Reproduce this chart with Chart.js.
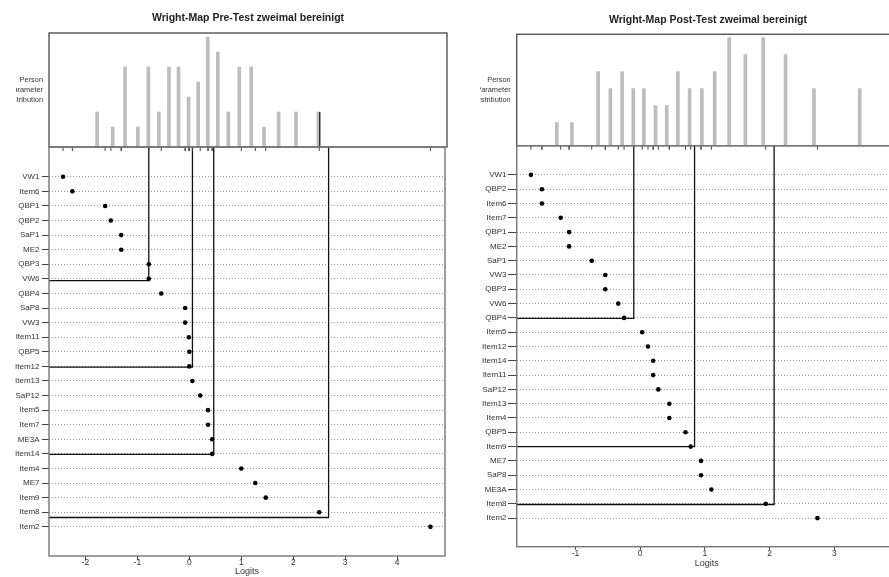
<!DOCTYPE html>
<html>
<head>
<meta charset="utf-8">
<script src="https://cdn.jsdelivr.net/npm/chart.js@4.4.0/dist/chart.umd.min.js"></script>
<style>
body{margin:0;background:#fff;width:889px;height:577px;overflow:hidden;position:relative}
.lado{position:absolute;top:0;height:577px;overflow:hidden;background:#fff}
.lado canvas{position:absolute;left:0;top:0}
</style>
</head>
<body>
<div class="lado" style="left:0;width:450px">
  <canvas id="preDist" width="450" height="577" style="width:450px;height:577px"></canvas>
  <canvas id="preMap" width="450" height="577" style="width:450px;height:577px"></canvas>
</div>
<div class="lado" style="left:450px;width:439px">
  <canvas id="postDist" width="452" height="577" style="width:452px;height:577px"></canvas>
  <canvas id="postMap" width="452" height="577" style="width:452px;height:577px"></canvas>
</div>
<script>
// ---- Pre-Test ----
var preItems = ['VW1','Item6','QBP1','QBP2','SaP1','ME2','QBP3','VW6','QBP4','SaP8','VW3','Item11','QBP5',
  'Item12','Item13','SaP12','Item5','Item7','ME3A','Item14','Item4','ME7','Item9','Item8','Item2'];
var preDifficulty = [-2.43,-2.25,-1.62,-1.51,-1.31,-1.31,-0.78,-0.78,-0.54,-0.08,-0.08,-0.01,0.0,
  0.0,0.06,0.21,0.36,0.36,0.44,0.44,1.0,1.27,1.47,2.50,4.64];
var prePersonLogits = [-2.19,-1.85,-1.58,-1.30,-1.07,-0.84,-0.62,-0.41,-0.19,0.02,0.23,0.45,0.68,0.92,1.18,1.46,1.78,2.16,2.65];
var prePersonCounts = [2,1,5,1,5,2,5,5,3,4,7,6,2,5,5,1,2,2,2];
var preCutLogits = [-0.78,0.06,0.47,2.68];
var preCutRows = [7.12,13.05,19.03,23.36];
var preCutDistHeight = [0,0,0,2];
var preLogitTicks = [-2,-1,0,1,2,3,4];

// ---- Post-Test ----
var postItems = ['VW1','QBP2','Item6','Item7','QBP1','ME2','SaP1','VW3','QBP3','VW6','QBP4','Item5','Item12',
  'Item14','Item11','SaP12','Item13','Item4','QBP5','Item9','ME7','SaP8','ME3A','Item8','Item2'];
var postDifficulty = [-1.69,-1.52,-1.52,-1.23,-1.10,-1.10,-0.75,-0.54,-0.54,-0.34,-0.25,0.03,0.12,
  0.20,0.20,0.28,0.45,0.45,0.70,0.78,0.94,0.94,1.10,1.94,2.74];
var postPersonLogits = [-1.68,-1.41,-0.94,-0.72,-0.51,-0.31,-0.12,0.09,0.29,0.49,0.70,0.92,1.15,1.41,1.70,2.02,2.42,2.93,3.75];
var postPersonCounts = [1,1,4,3,4,3,3,2,2,4,3,3,4,6,5,6,5,3,3];
var postCutLogits = [-0.10,0.84,2.07];
var postCutRows = [10.03,19.0,23.05];
var postCutDistHeight = [0,0,0];
var postLogitTicks = [-1,0,1,2,3];

var personLabel = ['Person','Parameter','Distribution'];
var FUENTE = "'Liberation Sans', Arial, sans-serif";
Chart.defaults.font.family = FUENTE;

// caja alrededor del area del grafico
var marcoPlugin = {
  id: 'marco',
  afterDraw: function(chart, args, opts){
    var a = chart.chartArea, ctx = chart.ctx;
    ctx.save();
    ctx.strokeStyle = opts.color;
    ctx.lineWidth = opts.width;
    ctx.strokeRect(a.left, a.top, a.right - a.left, a.bottom - a.top);
    ctx.restore();
  }
};

// texto "Person Parameter Distribution" recortado a la izquierda
var etiquetaPlugin = {
  id: 'etiqueta',
  afterDraw: function(chart, args, opts){
    var a = chart.chartArea, ctx = chart.ctx;
    var cy = (a.top + a.bottom) / 2;
    ctx.save();
    ctx.beginPath();
    ctx.rect(opts.clipX, a.top, a.left - opts.clipX, a.bottom - a.top);
    ctx.clip();
    ctx.font = '7.4px ' + FUENTE;
    ctx.fillStyle = '#333';
    ctx.textAlign = 'right';
    ctx.textBaseline = 'middle';
    opts.lines.forEach(function(t, i){
      ctx.fillText(t, a.left - 6, cy + (i - 1) * 9.8);
    });
    ctx.restore();
  }
};

function DibujarDistribucion(id, titulo, logits, counts, cuts, cutH, xMin, xMax, yMin, yMax, g){
  var datasets = [{
    type: 'bar',
    data: logits.map(function(v, i){ return {x: v, y: counts[i]}; }),
    backgroundColor: '#bdbdbd',
    barThickness: 3,
    base: yMin,
    order: 2
  }];
  cuts.forEach(function(c, i){
    if (cutH[i] > 0) {
      datasets.push({
        type: 'line',
        data: [{x: c, y: yMin}, {x: c, y: cutH[i]}],
        borderColor: '#222', borderWidth: 1.3, pointRadius: 0, order: 1
      });
    }
  });
  return new Chart(document.getElementById(id), {
    type: 'bar',
    data: {datasets: datasets},
    options: {
      responsive: false, animation: false,
      layout: {padding: {left: g.left, right: g.canvasW - g.right, top: 0, bottom: 577 - g.divide}},
      scales: {
        x: {type: 'linear', min: xMin, max: xMax, display: false},
        y: {type: 'linear', min: yMin, max: yMax, display: false}
      },
      plugins: {
        legend: {display: false},
        tooltip: {enabled: false},
        title: {
          display: true, text: titulo, fullSize: false, color: '#222',
          font: {size: 10.5, weight: 'bold'},
          padding: {top: g.titlePadTop, bottom: g.distTop - g.titlePadTop - 12.6}
        },
        marco: {color: '#555', width: 1.4},
        etiqueta: {clipX: g.textClip, lines: personLabel}
      }
    },
    plugins: [marcoPlugin, etiquetaPlugin]
  });
}

function DibujarMapa(id, items, difficulty, cuts, cutRows, xTicks, xMin, xMax, g){
  var rowMin = -2.04, rowMax = 26.0;
  var datasets = [{
    data: difficulty.map(function(v, i){ return {x: v, y: i}; }),
    pointRadius: 2.3, backgroundColor: '#000', borderWidth: 0
  }, {
    // marcas de los items bajo la distribucion
    data: difficulty.map(function(v){ return {x: v, y: rowMin + 0.14}; }),
    pointStyle: 'line', rotation: 90, pointRadius: 2, borderColor: '#444', borderWidth: 1
  }];
  cuts.forEach(function(c, i){
    datasets.push({
      data: [{x: xMin, y: cutRows[i]}, {x: c, y: cutRows[i]}, {x: c, y: rowMin}],
      showLine: true, pointRadius: 0, borderColor: '#111', borderWidth: 1.3, fill: false
    });
  });
  return new Chart(document.getElementById(id), {
    type: 'scatter',
    data: {datasets: datasets},
    options: {
      responsive: false, animation: false,
      layout: {padding: {left: 0, right: g.canvasW - g.right, top: g.divide, bottom: 0}},
      scales: {
        x: {
          type: 'linear', min: xMin, max: xMax,
          afterBuildTicks: function(s){ s.ticks = xTicks.map(function(v){ return {value: v}; }); },
          afterFit: function(s){ s.height = 577 - g.bottom; },
          grid: {drawOnChartArea: false, tickLength: g.xTickLen, color: '#444'},
          border: {display: false},
          ticks: {padding: g.xPad, font: {size: 8.5}, color: '#333', maxRotation: 0, autoSkip: false},
          title: {display: true, text: 'Logits', font: {size: 9}, color: '#333', padding: {top: 0, bottom: g.logitsPad}}
        },
        y: {
          type: 'linear', reverse: true, min: rowMin, max: rowMax,
          afterBuildTicks: function(s){ s.ticks = items.map(function(n, i){ return {value: i}; }); },
          afterFit: function(s){ s.width = g.left; },
          grid: {color: '#999', tickColor: '#444', tickLength: g.yTickLen},
          border: {display: false, dash: [1, 2]},
          ticks: {
            autoSkip: false, padding: g.yPad, font: {size: 8}, color: '#333',
            callback: function(v){ return items[v]; }
          }
        }
      },
      plugins: {
        legend: {display: false},
        tooltip: {enabled: false},
        marco: {color: '#777', width: 1.4}
      }
    },
    plugins: [marcoPlugin]
  });
}

var preGeom = {left: 49, right: 447, distTop: 33, divide: 147, bottom: 556, canvasW: 450, textClip: 16,
  yTickLen: 7, yPad: 2.5, xTickLen: 4, xPad: -2, logitsPad: 0, titlePadTop: 11.7};
var postGeom = {left: 66.7, right: 449.3, distTop: 34.3, divide: 145.7, bottom: 546.7, canvasW: 452, textClip: 30,
  yTickLen: 8.7, yPad: 1.5, xTickLen: 3, xPad: -1, logitsPad: 7.6, titlePadTop: 13.7};

DibujarDistribucion('preDist', 'Wright-Map Pre-Test zweimal bereinigt', prePersonLogits, prePersonCounts,
  preCutLogits, preCutDistHeight, -2.70, 4.92, -0.333, 7.267, preGeom);
DibujarMapa('preMap', preItems, preDifficulty, preCutLogits, preCutRows, preLogitTicks, -2.70, 4.92, preGeom);

DibujarDistribucion('postDist', 'Wright-Map Post-Test zweimal bereinigt', postPersonLogits, postPersonCounts,
  postCutLogits, postCutDistHeight, -1.91, 3.97, -0.353, 6.2, postGeom);
DibujarMapa('postMap', postItems, postDifficulty, postCutLogits, postCutRows, postLogitTicks, -1.91, 3.97, postGeom);
</script>
</body>
</html>
